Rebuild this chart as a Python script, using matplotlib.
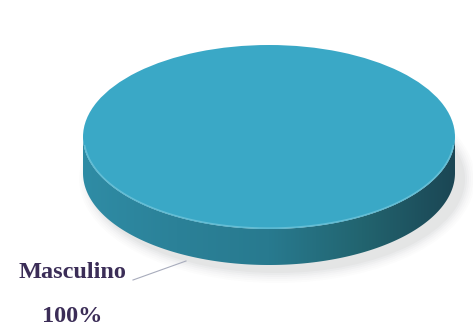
"""
3D-style pie chart: distribution by sex (single category)
"""

import numpy as np
import matplotlib
matplotlib.use("Agg")
import matplotlib.pyplot as plt
from matplotlib.colors import LinearSegmentedColormap
from matplotlib.patches import Polygon, Ellipse

# ---------------- DATA ----------------
labels = ["Masculino"]
values = [100]
colors = ["#3aa8c6"]

# ---------------- LAYOUT (pixels, y downward) ----------------
W, H = 473, 332
CX, CY = 269, 137      # centre of top face
RX, RY = 186, 92       # radii of top face
DEPTH = 36             # thickness of the disc
START = 0              # start angle (deg) of first slice

fig = plt.figure(figsize=(W / 100, H / 100), dpi=100)
ax = fig.add_axes([0, 0, 1, 1])
ax.set_xlim(0, W)
ax.set_ylim(H, 0)
ax.axis("off")

# soft shadow under the disc
for k, a in enumerate(np.linspace(0.035, 0.01, 6)):
    ax.add_patch(Ellipse((CX + 8, CY + DEPTH + 6), 2 * RX + 4 + 4 * k,
                         2 * RY + 4 + 4 * k, facecolor="#404850",
                         edgecolor="none", alpha=a, zorder=0))

fractions = np.array(values, dtype=float) / sum(values)
bounds = START + np.concatenate([[0], np.cumsum(fractions) * 360])

# side walls: only the front half (pi..2pi) is visible
side_cmap = LinearSegmentedColormap.from_list(
    "side", ["#2f8ca5", "#2b8198", "#287a8f", "#22646f", "#1b4654"])
grad = np.linspace(0, 1, 256).reshape(1, -1)
for i in range(len(values)):
    a0, a1 = np.radians(bounds[i]), np.radians(bounds[i + 1])
    for k in range(-1, 4):
        lo = max(a0, np.pi + 2 * np.pi * k)
        hi = min(a1, 2 * np.pi + 2 * np.pi * k)
        if lo >= hi:
            continue
        t = np.linspace(lo, hi, 300)
        xs = CX + RX * np.cos(t)
        ys = CY - RY * np.sin(t)
        pts = np.vstack([np.column_stack([xs, ys]),
                         np.column_stack([xs[::-1], ys[::-1] + DEPTH])])
        poly = Polygon(pts, closed=True, facecolor="none", edgecolor="none")
        ax.add_patch(poly)
        im = ax.imshow(grad, cmap=side_cmap, aspect="auto",
                       extent=[CX - RX, CX + RX, CY + RY + DEPTH, CY - 5],
                       interpolation="bilinear", zorder=1)
        im.set_clip_path(poly)

# leader line
ax.plot([133, 186], [280, 261], color="#a8acbc", lw=0.8, zorder=4)

# top face drawn with pie in an inset axes stretched to an ellipse
pie_ax = fig.add_axes([(CX - RX) / W, 1 - (CY + RY) / H, 2 * RX / W, 2 * RY / H])
pie_ax.pie(values, colors=colors, startangle=START, counterclock=True,
           radius=1, wedgeprops=dict(linewidth=0))
pie_ax.set_aspect("auto")
pie_ax.set_xlim(-1, 1)
pie_ax.set_ylim(-1, 1)
pie_ax.axis("off")

# light rim along front edge of top face
t = np.linspace(np.pi * 1.03, np.pi * 1.97, 200)
pie_ax.plot(0.995 * np.cos(t), 0.99 * np.sin(t), color="#6fc4da",
            lw=1.0, alpha=0.8)

txt_color = "#3b2d57"
ax.text(72, 272, labels[0], ha="center", va="center", fontsize=17.5,
        fontweight="bold", family="Liberation Serif", color=txt_color)
ax.text(72, 316, f"{values[0] / sum(values) * 100:.0f}%", ha="center",
        va="center", fontsize=17.5, fontweight="bold",
        family="Liberation Serif", color=txt_color)

fig.savefig("out.png", dpi=100, facecolor="white")
